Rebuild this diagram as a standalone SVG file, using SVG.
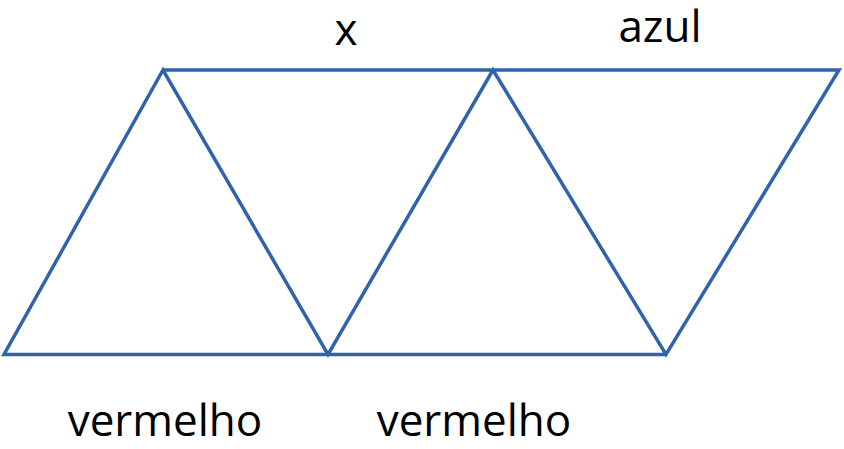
<svg xmlns="http://www.w3.org/2000/svg" width="844" height="449" viewBox="0 0 844 449">
<style>
.edge{fill:none;stroke:#3163aa;stroke-width:3.5;stroke-linejoin:miter;stroke-linecap:butt}
.lbl{font-family:"Open Sans","Noto Sans",sans-serif;font-size:44px;fill:#000;text-anchor:middle}
</style>
<rect width="844" height="449" fill="#fff"/>
<g id="connectors">
<polyline class="edge" points="666,354.5 4,354.5 163,70 328,354.5 493,70 666,354.5 839,70 163,70"/>
</g>
<g id="label-x"><text class="lbl" x="346" y="45">x</text></g>
<g id="label-azul"><text class="lbl" x="660" y="42">azul</text></g>
<g id="label-vermelho-1"><text class="lbl" x="165" y="436">vermelho</text></g>
<g id="label-vermelho-2"><text class="lbl" x="474" y="436">vermelho</text></g>
</svg>
